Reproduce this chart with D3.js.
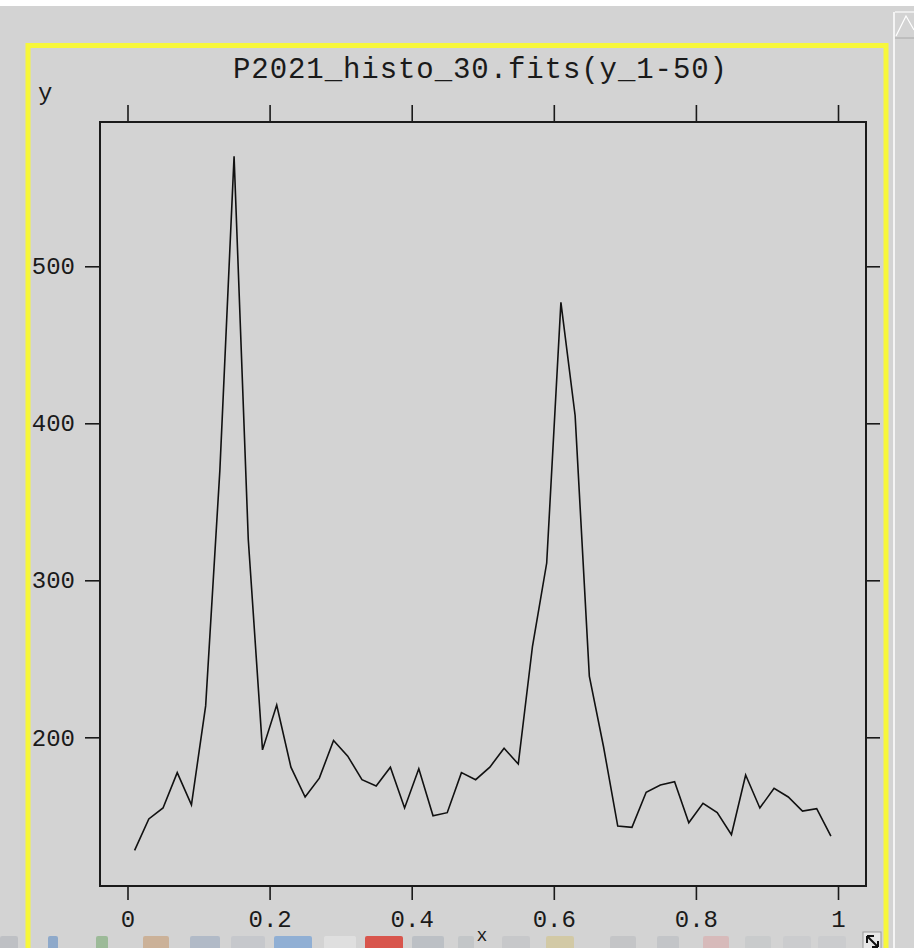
<!DOCTYPE html>
<html>
<head>
<meta charset="utf-8">
<script src="https://cdn.jsdelivr.net/npm/d3@7/dist/d3.min.js"></script>
<style>
  html, body { margin: 0; padding: 0; background: #ffffff; }
  svg { display: block; }
  text { font-family: "Liberation Mono", "DejaVu Sans Mono", monospace; fill: #1a1a1a; }
</style>
</head>
<body>
<svg id="chart" width="914" height="948"></svg>
<script>
// ---- data ----
const titleText = "P2021_histo_30.fits(y_1-50)";
const xLabel = "x";
const yLabel = "y";
const xValues = [0.01,0.03,0.05,0.07,0.09,0.11,0.13,0.15,0.17,0.19,
                 0.21,0.23,0.25,0.27,0.29,0.31,0.33,0.35,0.37,0.39,
                 0.41,0.43,0.45,0.47,0.49,0.51,0.53,0.55,0.57,0.59,
                 0.61,0.63,0.65,0.67,0.69,0.71,0.73,0.75,0.77,0.79,
                 0.81,0.83,0.85,0.87,0.89,0.91,0.93,0.95,0.97,0.99];
const yValues = [128,148,155,177.5,157,220,370,570,326,192,
                 220.6,181,162,174,198,188,173,169,181,155,
                 180,150,152,177.5,173,181,193,183,258,311,
                 477,405,239,194,143.5,142.7,165,169.6,171.7,145.6,
                 158,152,138,176,155,167.5,162,153,154.5,137];
const xTicks = [0, 0.2, 0.4, 0.6, 0.8, 1];
const xTickLabels = ["0", "0.2", "0.4", "0.6", "0.8", "1"];
const yTicks = [200, 300, 400, 500];
const yTickLabels = ["200", "300", "400", "500"];

// ---- layout ----
const svg = d3.select("#chart");
const L = 100, R = 866, T = 122, B = 886;
const bg = "#d3d3d3";

svg.append("rect").attr("x",0).attr("y",0).attr("width",914).attr("height",948).attr("fill",bg);
svg.append("rect").attr("x",0).attr("y",0).attr("width",914).attr("height",6).attr("fill","#ffffff");

// right scrollbar decoration
svg.append("line").attr("x1",894).attr("x2",894).attr("y1",12).attr("y2",948).attr("stroke","#f4f4f4").attr("stroke-width",2);
svg.append("line").attr("x1",895).attr("x2",914).attr("y1",12).attr("y2",12).attr("stroke","#f4f4f4").attr("stroke-width",1.5);
svg.append("line").attr("x1",895).attr("x2",914).attr("y1",38).attr("y2",38).attr("stroke","#a8a8a8").attr("stroke-width",1);
svg.append("path").attr("d","M896,36 L906,16 L914,30").attr("fill","none").attr("stroke","#ffffff").attr("stroke-width",1.2);

// yellow frame
svg.append("rect").attr("x",28).attr("y",45.5).attr("width",858).attr("height",1000)
  .attr("fill","none").attr("stroke","#f7f73a").attr("stroke-width",5);

const x = d3.scaleLinear().domain([-0.0387, 1.0394]).range([L, R]);
const y = d3.scaleLinear().domain([105.3, 591.9]).range([B, T]);

// axes (ticks outward)
const fmtX = d => xTickLabels[xTicks.indexOf(d)];
const fmtY = d => yTickLabels[yTicks.indexOf(d)];

const gTop = svg.append("g").attr("transform",`translate(0,${T})`)
  .call(d3.axisTop(x).tickValues(xTicks).tickSize(17).tickFormat(""));
const gBottom = svg.append("g").attr("transform",`translate(0,${B})`)
  .call(d3.axisBottom(x).tickValues(xTicks).tickSize(14).tickPadding(10).tickFormat(fmtX));
const gLeft = svg.append("g").attr("transform",`translate(${L},0)`)
  .call(d3.axisLeft(y).tickValues(yTicks).tickSize(15).tickPadding(10).tickFormat(fmtY));
const gRight = svg.append("g").attr("transform",`translate(${R},0)`)
  .call(d3.axisRight(y).tickValues(yTicks).tickSize(14).tickFormat(""));

[gTop,gBottom,gLeft,gRight].forEach(g => {
  g.select(".domain").remove();
  g.selectAll(".tick line").attr("stroke","#1a1a1a").attr("stroke-width",1.6);
  g.selectAll(".tick text").attr("font-family","Liberation Mono, DejaVu Sans Mono, monospace")
    .attr("font-size",24).attr("fill","#1a1a1a");
});
gBottom.selectAll(".tick text").attr("dy",null).attr("y",41);
gLeft.selectAll(".tick text").attr("x",-25);

// plot frame
svg.append("rect").attr("x",L).attr("y",T).attr("width",R-L).attr("height",B-T)
  .attr("fill","none").attr("stroke","#1a1a1a").attr("stroke-width",2);

// data line
const pts = xValues.map((v,i) => [v, yValues[i]]);
svg.append("path").datum(pts)
  .attr("fill","none").attr("stroke","#111").attr("stroke-width",1.6)
  .attr("d", d3.line().x(d => x(d[0])).y(d => y(d[1])));

// title and axis labels
svg.append("text").attr("x",480).attr("y",78).attr("text-anchor","middle")
  .attr("font-size",29).attr("textLength",494).attr("lengthAdjust","spacing").text(titleText);
svg.append("text").attr("x",38).attr("y",100).attr("font-size",24).text(yLabel);

// bottom toolbar decoration (partially visible icons)
const icons = [[0,18,"#b9bcc0"],[48,10,"#7d9fc8"],[96,12,"#8fb48a"],[143,26,"#c9a98a"],[190,30,"#a9b4c4"],
  [231,34,"#c3c6ca"],[274,38,"#7fa6d4"],[324,32,"#e2e2e2"],[365,38,"#d9362b"],[412,32,"#b7bcc2"],
  [458,16,"#bfc3c6"],[502,28,"#c4c6c8"],[546,28,"#d2c79a"],[610,26,"#c0c2c4"],[657,22,"#bfc2c6"],
  [703,26,"#d8b4b4"],[745,26,"#c7c9cb"],[783,28,"#c9cbcd"],[818,28,"#c9cbcd"]];
svg.selectAll("rect.icon").data(icons).enter().append("rect").attr("class","icon")
  .attr("x",d=>d[0]).attr("y",936).attr("width",d=>d[1]).attr("height",14).attr("rx",2)
  .attr("fill",d=>d[2]).attr("opacity",0.8);
svg.append("text").attr("x",482).attr("y",941).attr("text-anchor","middle").attr("font-size",18).text(xLabel);
svg.append("rect").attr("x",863).attr("y",932).attr("width",18).attr("height",18).attr("fill","#e8e8e8").attr("stroke","#999");
svg.append("path").attr("d","M867,936 L878,947 M867,936 L867,943 M867,936 L874,936 M878,947 L872,947 M878,947 L878,941")
  .attr("stroke","#111").attr("stroke-width",2).attr("fill","none");
</script>
</body>
</html>
